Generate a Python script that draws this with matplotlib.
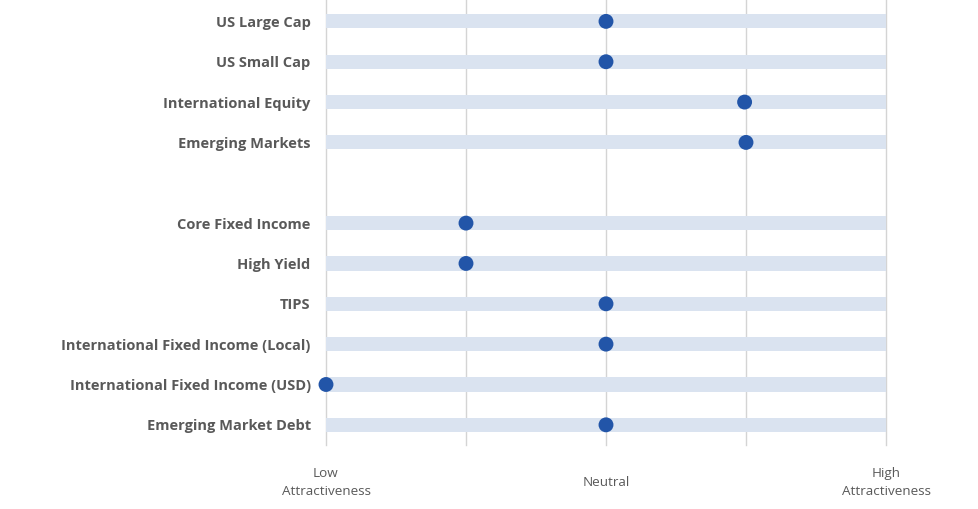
import numpy as np
import matplotlib.pyplot as plt

plt.rcParams["font.family"] = ["Open Sans", "DejaVu Sans"]

# asset classes, top to bottom ("" = blank spacer row)
labels = ["US Large Cap", "US Small Cap", "International Equity", "Emerging Markets", "",
          "Core Fixed Income", "High Yield", "TIPS",
          "International Fixed Income (Local)", "International Fixed Income (USD)",
          "Emerging Market Debt"]
# attractiveness score, 0 = low, 2 = neutral, 4 = high
scores = [2.0, 2.0, 2.99, 3.0, None, 1.0, 1.0, 2.0, 2.0, 0.0, 2.0]
scale_max = 4
xtick_pos = [0, 2, 4]
xtick_labels = ["Low\nAttractiveness", "Neutral", "High\nAttractiveness"]

fig = plt.figure(figsize=(9.79, 5.09), dpi=100)
ax = fig.add_axes([326 / 979, 1 - 445 / 509, 560 / 979, 445 / 509])

y = np.arange(len(labels))
for i, s in enumerate(scores):
    if s is None:
        continue
    ax.barh(i, scale_max, height=0.35, color="#dae3f0", zorder=2)
    ax.scatter(s, i, s=115, color="#2255a8", zorder=3, edgecolors="none", clip_on=False)

for g in range(scale_max + 1):
    ax.axvline(g, color="#d4d4d4", lw=1.0, zorder=1, clip_on=False)

ax.set_xlim(0, scale_max)
ax.set_ylim(10.5, -0.53)
ax.set_yticks(y)
ax.set_yticklabels(labels, fontweight="bold", fontsize=10.5, color="#595959")
ax.set_xticks(xtick_pos)
ax.set_xticklabels(xtick_labels, fontsize=9.7, color="#595959", va="center",
                   linespacing=1.45)
ax.tick_params(axis="y", length=0, pad=11)
ax.tick_params(axis="x", length=0, pad=27)
for sp in ax.spines.values():
    sp.set_visible(False)

fig.savefig("out.png", dpi=100)
